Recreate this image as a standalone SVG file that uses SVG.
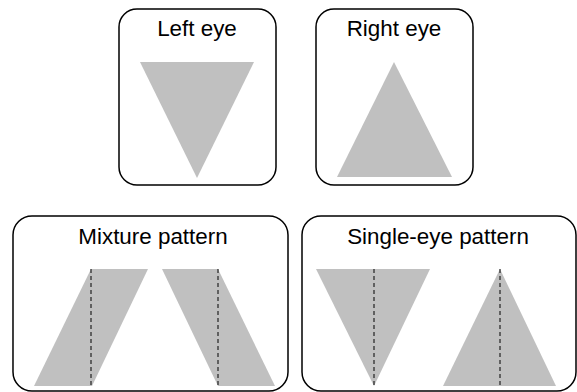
<svg xmlns="http://www.w3.org/2000/svg" width="577" height="392" viewBox="0 0 577 392">
<style>
.box{fill:#fff;stroke:#000;stroke-width:1.5}
.shape{fill:#c0c0c0;stroke:none}
.dash{stroke:#000;stroke-width:1;stroke-dasharray:4,3;fill:none}
.lbl{font-family:"Liberation Sans",Arial,sans-serif;font-size:22.4px;fill:#000;text-anchor:middle}
</style>
<rect width="577" height="392" fill="#fff"/>
<g id="left-eye">
<rect class="box" x="119" y="9" width="157" height="176" rx="18"/>
<text class="lbl" x="197" y="36">Left eye</text>
<polygon class="shape" points="140,62 254,62 197,178"/>
</g>
<g id="right-eye">
<rect class="box" x="316" y="9" width="157" height="176" rx="18"/>
<text class="lbl" x="394" y="36">Right eye</text>
<polygon class="shape" points="394,62 452,177 337,177"/>
</g>
<g id="mixture-pattern">
<rect class="box" x="13" y="216" width="275" height="175" rx="19"/>
<text class="lbl" x="153" y="244">Mixture pattern</text>
<polygon class="shape" points="91,269 148,269 92,386 34,386"/>
<polygon class="shape" points="162,269 218,269 275,386 218,386"/>
<line class="dash" x1="91" y1="269" x2="91" y2="386"/>
<line class="dash" x1="218" y1="269" x2="218" y2="386"/>
</g>
<g id="single-eye-pattern">
<rect class="box" x="302" y="216" width="274" height="175" rx="19"/>
<text class="lbl" x="438" y="244">Single-eye pattern</text>
<polygon class="shape" points="316,269 430,269 374,386"/>
<polygon class="shape" points="500,269 556,386 443,386"/>
<line class="dash" x1="374" y1="269" x2="374" y2="386"/>
<line class="dash" x1="500" y1="269" x2="500" y2="386"/>
</g>
<g id="connectors"/>
</svg>
